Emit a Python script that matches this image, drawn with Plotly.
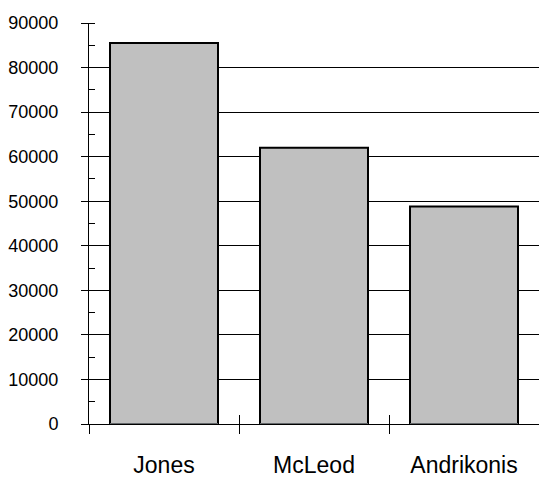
import plotly.graph_objects as go

categories = ["Jones", "McLeod", "Andrikonis"]
values = [85500, 62000, 48800]
y_ticks = [0, 10000, 20000, 30000, 40000, 50000, 60000, 70000, 80000, 90000]

FONT = "Liberation Sans, Arial, sans-serif"

fig = go.Figure()
fig.add_trace(go.Bar(
    x=categories, y=values,
    marker=dict(color="#c0c0c0", line=dict(color="black", width=2)),
    hoverinfo="x+y",
))
# invisible trace to drive the overlaid axis giving the "cross" tick on the x axis
fig.add_trace(go.Bar(x=categories, y=[0, 0, 0], xaxis="x2", showlegend=False,
                     marker=dict(color="rgba(0,0,0,0)"), hoverinfo="skip"))

fig.update_layout(
    width=539, height=478,
    margin=dict(l=89, r=0, t=23, b=54),
    paper_bgcolor="white", plot_bgcolor="white",
    showlegend=False,
    bargap=0.28,
    font=dict(family=FONT, color="black"),
    xaxis=dict(
        type="category", categoryarray=categories, range=[-0.5, 2.5],
        showline=True, linecolor="black", linewidth=1,
        ticks="outside", tickson="boundaries", ticklen=9, tickcolor="black", tickwidth=1,
        tickfont=dict(size=23, family=FONT),
        ticklabelstandoff=20,
        showgrid=False, zeroline=False,
    ),
    xaxis2=dict(
        type="category", categoryarray=categories, range=[-0.5, 2.5],
        overlaying="x", anchor="y", side="bottom",
        ticks="inside", tickson="boundaries", ticklen=9, tickcolor="black", tickwidth=1,
        showticklabels=False, showgrid=False, zeroline=False, showline=False,
    ),
    yaxis=dict(
        range=[0, 90000], tickvals=y_ticks, ticktext=[str(v) for v in y_ticks],
        showline=True, linecolor="black", linewidth=1,
        ticks="outside", ticklen=7, tickcolor="black", tickwidth=1,
        minor=dict(ticks="inside", ticklen=6, tickcolor="black", tickwidth=1,
                   dtick=5000, showgrid=False),
        showgrid=True, gridcolor="black", gridwidth=1,
        zeroline=False,
        tickfont=dict(size=18, family=FONT),
        ticklabelstandoff=19,
    ),
)

fig.write_html("out.html", config={"displayModeBar": False},
               post_script="document.body.style.margin='0';")
